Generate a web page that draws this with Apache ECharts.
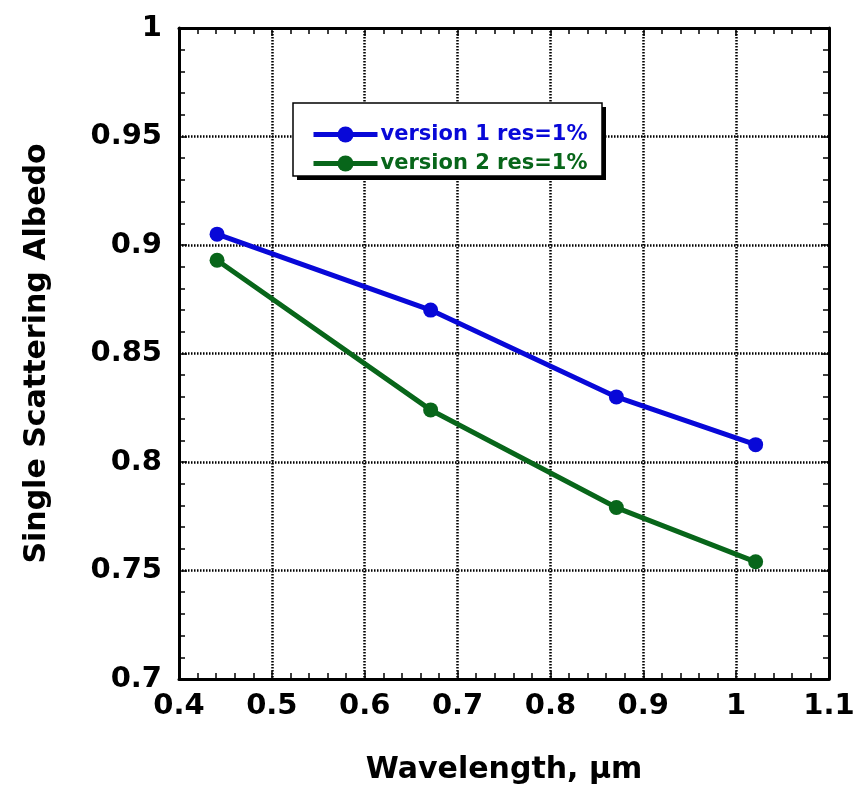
<!DOCTYPE html>
<html>
<head>
<meta charset="utf-8">
<script src="https://cdn.jsdelivr.net/npm/echarts@6/dist/echarts.min.js"></script>
<style>html,body{margin:0;padding:0;background:#fff}#c{width:867px;height:795px}</style>
</head>
<body>
<div id="c"></div>
<script>
var wavelength = [0.441, 0.671, 0.871, 1.021];
var version1 = [0.905, 0.870, 0.830, 0.808];
var version2 = [0.893, 0.824, 0.779, 0.754];
var seriesNames = ['version 1 res=1%', 'version 2 res=1%'];
var seriesColors = ['#0808d8', '#08661a'];
var xName = 'Wavelength, \u00b5m';
var yName = 'Single Scattering Albedo';

var FONT = 'DejaVu Sans';
function pairs(xs, ys) { return xs.map(function (x, i) { return [x, ys[i]]; }); }

var chart = echarts.init(document.getElementById('c'));
var gridLine = { show: true, lineStyle: { color: '#000', width: 2.5, type: [1.5, 1.5] } };
var tick = { show: true, inside: true, length: 8, lineStyle: { color: '#000', width: 1.5 } };
var minor = { show: true, splitNumber: 5, length: 6, lineStyle: { color: '#000', width: 1.5 } };
var axLine = { show: true, onZero: false, lineStyle: { color: '#000', width: 3 } };
var lab = { color: '#000', fontFamily: FONT, fontWeight: 'bold', fontSize: 29 };
var nameStyle = { color: '#000', fontFamily: FONT, fontWeight: 'bold', fontSize: 30 };

chart.setOption({
  animation: false,
  grid: { left: 179, right: 38, top: 28, bottom: 116 },
  xAxis: [
    { type: 'value', min: 0.4, max: 1.1, interval: 0.1, position: 'bottom',
      axisLine: axLine, axisTick: tick, minorTick: minor, splitLine: gridLine,
      axisLabel: Object.assign({ margin: 13 }, lab),
      name: xName, nameLocation: 'middle', nameGap: 76, nameTextStyle: nameStyle },
    { type: 'value', min: 0.4, max: 1.1, interval: 0.1, position: 'top',
      axisLine: axLine, axisTick: tick, minorTick: minor, splitLine: { show: false },
      axisLabel: { show: false } }
  ],
  yAxis: [
    { type: 'value', min: 0.7, max: 1, interval: 0.05, position: 'left',
      axisLine: axLine, axisTick: tick, minorTick: minor, splitLine: gridLine,
      axisLabel: Object.assign({ margin: 17 }, lab),
      name: yName, nameLocation: 'middle', nameGap: 127, nameRotate: 90, nameTextStyle: nameStyle },
    { type: 'value', min: 0.7, max: 1, interval: 0.05, position: 'right',
      axisLine: axLine, axisTick: tick, minorTick: minor, splitLine: { show: false },
      axisLabel: { show: false } }
  ],
  graphic: [
    { type: 'rect', z: 10, shape: { x: 297, y: 107, width: 309, height: 73 }, style: { fill: '#000' } },
    { type: 'rect', z: 11, shape: { x: 293, y: 103, width: 309, height: 73 },
      style: { fill: '#fff', stroke: '#000', lineWidth: 1.5 } }
  ],
  legend: {
    z: 20, orient: 'vertical', left: 306, top: 119, itemWidth: 64, itemHeight: 20, itemGap: 8,
    lineStyle: { width: 5 },
    data: seriesNames.map(function (n, i) {
      return { name: n, textStyle: { color: seriesColors[i], fontFamily: FONT, fontWeight: 'bold', fontSize: 21 } };
    }),
    textStyle: { padding: [0, 0, 0, -2] }
  },
  series: [
    { name: seriesNames[0], type: 'line', data: pairs(wavelength, version1), symbol: 'circle', symbolSize: 15,
      color: seriesColors[0], lineStyle: { width: 5, color: seriesColors[0] }, itemStyle: { color: seriesColors[0] } },
    { name: seriesNames[1], type: 'line', data: pairs(wavelength, version2), symbol: 'circle', symbolSize: 15,
      color: seriesColors[1], lineStyle: { width: 5, color: seriesColors[1] }, itemStyle: { color: seriesColors[1] } }
  ]
});
</script>
</body>
</html>
